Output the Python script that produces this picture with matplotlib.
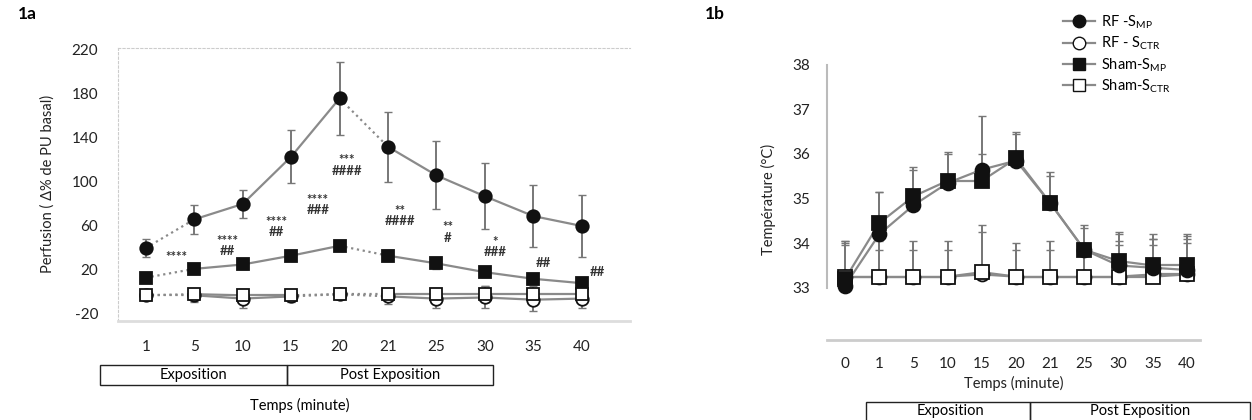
import matplotlib.pyplot as plt
from matplotlib.patches import Rectangle
from matplotlib.lines import Line2D
import numpy as np

plt.rcParams['font.family'] = ['Lato', 'DejaVu Sans']
plt.rcParams['mathtext.fontset'] = 'custom'
plt.rcParams['mathtext.rm'] = 'Lato'
plt.rcParams['axes.unicode_minus'] = False

# ---- data, panel 1a (perfusion) ----
temps_a = ['1', '5', '10', '15', '20', '21', '25', '30', '35', '40']
rf_smp_a = [40, 66, 80, 123, 176, 132, 106, 87, 69, 60]
rf_smp_a_err = [8, 13, 13, 24, 33, 32, 31, 30, 28, 28]
sham_smp_a = [13, 21, 25, 33, 42, 33, 26, 18, 12, 8]
sham_smp_a_err = [3, 4, 4, 4, 4, 5, 5, 4, 4, 4]
rf_sctr_a = [-3, -3, -6, -4, -2, -4, -6, -5, -7, -6]
rf_sctr_a_err = [3, 6, 9, 5, 3, 7, 9, 10, 10, 9]
sham_sctr_a = [-3, -2, -3, -3, -2, -2, -2, -2, -2, -2]
sham_sctr_a_err = [3, 4, 5, 4, 3, 5, 6, 7, 7, 7]

signif_a = ['****', '****\n##', '****\n##', '****\n###', '***\n####',
            '**\n####', '**\n#', '*\n###', '##', '##']
signif_x = [0.64, 1.69, 2.69, 3.55, 4.15, 5.25, 6.24, 7.21, 8.2, 9.32]
signif_y = [32, 42, 59, 79, 115, 69, 54, 41, 26, 18]

# ---- data, panel 1b (temperature) ----
temps_b = ['0', '1', '5', '10', '15', '20', '21', '25', '30', '35', '40']
rf_smp_b = [33.05, 34.2, 34.85, 35.35, 35.65, 35.85, 34.9, 33.85, 33.5, 33.45, 33.4]
rf_smp_b_up = [1.0, 0.95, 0.85, 0.7, 1.2, 0.65, 0.7, 0.55, 0.75, 0.75, 0.8]
sham_smp_b = [33.2, 34.45, 35.05, 35.4, 35.4, 35.9, 34.9, 33.85, 33.6, 33.5, 33.5]
sham_smp_b_up = [0.8, 0.7, 0.6, 0.6, 0.6, 0.55, 0.6, 0.5, 0.6, 0.6, 0.6]
rf_sctr_b = [33.25, 33.25, 33.25, 33.25, 33.3, 33.25, 33.25, 33.25, 33.25, 33.3, 33.3]
rf_sctr_b_up = [0.8, 0.8, 0.8, 0.8, 1.1, 0.75, 0.8, 0.75, 0.8, 0.8, 0.85]
sham_sctr_b = [33.25, 33.25, 33.25, 33.25, 33.35, 33.25, 33.25, 33.25, 33.25, 33.25, 33.3]
sham_sctr_b_up = [0.7, 0.6, 0.6, 0.6, 0.9, 0.6, 0.6, 0.6, 0.7, 0.7, 0.7]

line_c = '#8a8a8a'
err_c = '#777777'
mk_c = '#111111'
txt_c = '#222222'


def draw_series(ax, y, err, marker, filled, dotted, ms):
    x = np.arange(len(y))
    for i in range(len(y) - 1):
        ls = ':' if i in dotted else '-'
        ax.plot(x[i:i + 2], y[i:i + 2], color=line_c, lw=1.6, ls=ls, zorder=2)
    ax.errorbar(x, y, yerr=err, fmt='none', ecolor=err_c, elinewidth=1.4,
                capsize=3, zorder=3)
    ax.plot(x, y, ls='none', marker=marker, ms=ms,
            mfc=mk_c if filled else 'white', mec=mk_c, mew=1.3, zorder=4)


fig = plt.figure(figsize=(12.52, 4.2), dpi=100)

# ---------------- panel 1a ----------------
ax1 = fig.add_axes([0.094, 0.2367, 0.409, 0.6495])
draw_series(ax1, rf_smp_a, rf_smp_a_err, 'o', True, [0, 4], 9)
draw_series(ax1, sham_smp_a, sham_smp_a_err, 's', True, [0, 4], 9)
draw_series(ax1, rf_sctr_a, rf_sctr_a_err, 'o', False, [0, 3, 4], 9)
draw_series(ax1, sham_sctr_a, sham_sctr_a_err, 's', False, [0, 3, 4], 9)

for s, xx, yy in zip(signif_a, signif_x, signif_y):
    ax1.text(xx, yy, s, ha='center', va='center', fontsize=9.5, color='#333333',
             fontweight='bold', linespacing=0.85)

ax1.set_xlim(-0.58, 9.99)
ax1.set_ylim(-26, 222)
ax1.set_yticks([-20, 20, 60, 100, 140, 180, 220])
ax1.set_xticks(range(len(temps_a)))
ax1.set_xticklabels(temps_a)
ax1.tick_params(axis='both', length=0, labelsize=11, colors=txt_c, pad=14)
for side in ['left', 'top']:
    ax1.spines[side].set_color('#cccccc')
    ax1.spines[side].set_linestyle((0, (2, 2)))
ax1.spines['right'].set_visible(False)
ax1.spines['bottom'].set_color('#dddddd')
ax1.spines['bottom'].set_linewidth(2)
ax1.set_ylabel('Perfusion ( Δ% de PU basal)', fontsize=10.5, color=txt_c, labelpad=12)

fig.text(18 / 1252, 1 - 14 / 420, '1a', fontsize=12.5, fontweight='bold', va='center')

# phase boxes 1a
fig.add_artist(Rectangle((100 / 1252, 1 - 385 / 420), 187 / 1252, 20 / 420,
                         transform=fig.transFigure, fill=False, lw=1, ec=txt_c))
fig.add_artist(Rectangle((287 / 1252, 1 - 385 / 420), 206 / 1252, 20 / 420,
                         transform=fig.transFigure, fill=False, lw=1, ec=txt_c))
fig.text(193 / 1252, 1 - 375 / 420, 'Exposition', ha='center', va='center', fontsize=10.5)
fig.text(390 / 1252, 1 - 375 / 420, 'Post Exposition', ha='center', va='center', fontsize=10.5)
fig.text(300 / 1252, 1 - 405 / 420, 'Temps (minute)', ha='center', va='center', fontsize=10.5)

# ---------------- panel 1b ----------------
ax2 = fig.add_axes([0.6605, 0.1905, 0.298, 0.667])
x_b = np.arange(len(temps_b))
zero_b = np.zeros(len(x_b))
draw_series(ax2, rf_sctr_b, [zero_b, rf_sctr_b_up], 'o', False, [], 10)
draw_series(ax2, sham_sctr_b, [zero_b, sham_sctr_b_up], 's', False, [], 10)
draw_series(ax2, rf_smp_b, [zero_b, rf_smp_b_up], 'o', True, [], 10)
draw_series(ax2, sham_smp_b, [zero_b, sham_smp_b_up], 's', True, [], 10)

ax2.set_xlim(-0.53, 10.38)
ax2.set_ylim(31.83, 38.11)
ax2.set_yticks([33, 34, 35, 36, 37, 38])
ax2.set_xticks(x_b)
ax2.set_xticklabels(temps_b)
ax2.tick_params(axis='both', length=0, labelsize=11, colors=txt_c, pad=12)
ax2.spines['left'].set_bounds(33, 38)
ax2.spines['left'].set_color('#bbbbbb')
ax2.spines['left'].set_linewidth(1.5)
ax2.spines['bottom'].set_color('#cccccc')
ax2.spines['bottom'].set_linewidth(2)
ax2.spines['top'].set_visible(False)
ax2.spines['right'].set_visible(False)
ax2.set_ylabel('Température (°C)', fontsize=10.5, color=txt_c, labelpad=12)
ax2.set_xlabel('Temps (minute)', fontsize=10.5, color=txt_c, labelpad=4)

handles = [
    Line2D([], [], color=line_c, lw=1.6, marker='o', ms=9, mfc=mk_c, mec=mk_c),
    Line2D([], [], color=line_c, lw=1.6, marker='o', ms=9, mfc='white', mec=mk_c),
    Line2D([], [], color=line_c, lw=1.6, marker='s', ms=9, mfc=mk_c, mec=mk_c),
    Line2D([], [], color=line_c, lw=1.6, marker='s', ms=9, mfc='white', mec=mk_c),
]
labels = [r'RF -S$_{\mathrm{MP}}$', r'RF - S$_{\mathrm{CTR}}$',
          r'Sham-S$_{\mathrm{MP}}$', r'Sham-S$_{\mathrm{CTR}}$']
fig.legend(handles, labels, loc='upper left', bbox_to_anchor=(1056 / 1252, 1 - 6 / 420),
           frameon=False, fontsize=10.5, handlelength=2.2, handletextpad=0.4,
           labelspacing=0.25, borderpad=0)

fig.text(705 / 1252, 1 - 14 / 420, '1b', fontsize=12.5, fontweight='bold', va='center')

# phase boxes 1b (cut by the figure edge)
fig.add_artist(Rectangle((866 / 1252, 1 - 425 / 420), 164 / 1252, 23 / 420,
                         transform=fig.transFigure, fill=False, lw=1, ec=txt_c,
                         clip_on=False))
fig.add_artist(Rectangle((1030 / 1252, 1 - 425 / 420), 220 / 1252, 23 / 420,
                         transform=fig.transFigure, fill=False, lw=1, ec=txt_c,
                         clip_on=False))
fig.text(950 / 1252, 1 - 411 / 420, 'Exposition', ha='center', va='center', fontsize=10.5)
fig.text(1140 / 1252, 1 - 411 / 420, 'Post Exposition', ha='center', va='center', fontsize=10.5)

fig.savefig('out.png', dpi=100)
